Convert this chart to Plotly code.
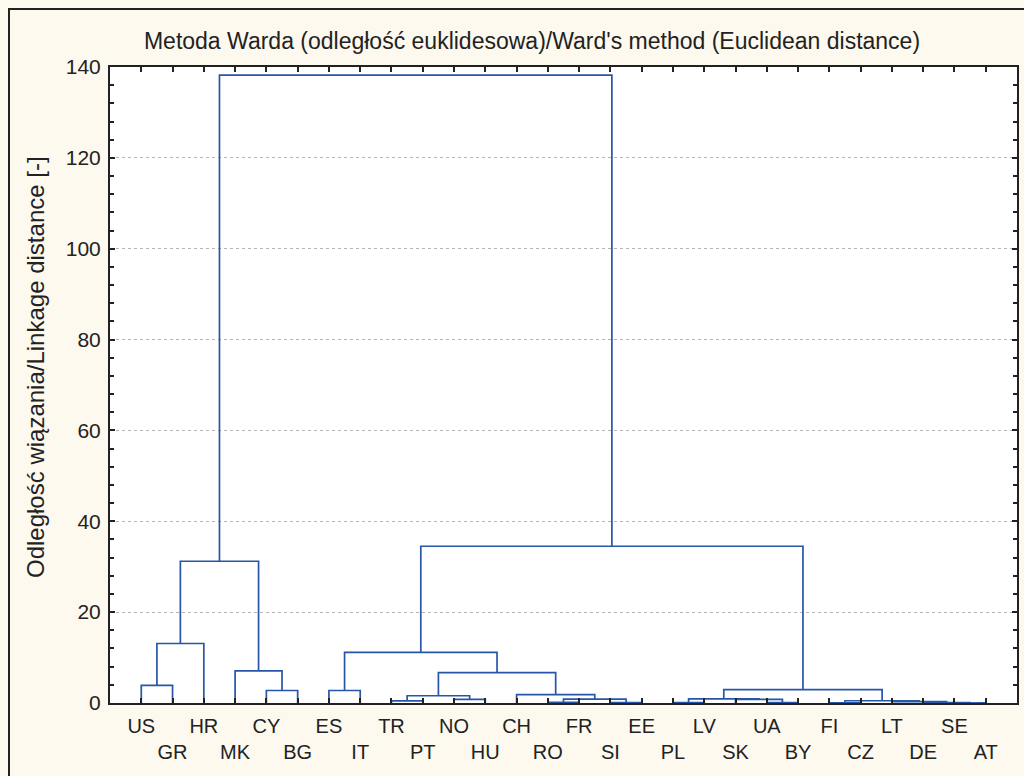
import plotly.graph_objects as go

# ---- data ----
leaves = ["US", "GR", "HR", "MK", "CY", "BG", "ES", "IT", "TR", "PT", "NO", "HU",
          "CH", "RO", "FR", "SI", "EE", "PL", "LV", "SK", "UA", "BY", "FI", "CZ",
          "LT", "DE", "SE", "AT"]

# merges: (child_a, child_b, linkage distance); children are leaf names or merge ids "c<k>"
merge_a = ["US", "c0", "CY", "MK", "c1", "ES", "TR", "NO", "c6", "RO", "SI", "c9", "CH",
           "c8", "c5", "PL", "UA", "SK", "c15", "FI", "SE", "DE", "LT", "c19", "c18",
           "c14", "c4"]
merge_b = ["GR", "HR", "BG", "c2", "c3", "IT", "PT", "HU", "c7", "FR", "EE", "c10", "c11",
           "c12", "c13", "LV", "BY", "c16", "c17", "CZ", "AT", "c20", "c21", "c22", "c23",
           "c24", "c25"]
merge_h = [3.9, 13.1, 2.75, 7.05, 31.2, 2.75, 0.45, 0.8, 1.6, 0.15, 0.1, 0.85, 1.85,
           6.7, 11.15, 0.1, 0.08, 0.8, 0.9, 0.06, 0.03, 0.1, 0.3, 0.5, 2.95, 34.5, 138.2]

y_ticks = [0, 20, 40, 60, 80, 100, 120, 140]

title_text = "Metoda Warda (odległość euklidesowa)/Ward's method (Euclidean distance)"
y_title = "Odległość wiązania/Linkage distance [-]"

# ---- build dendrogram paths ----
pos = {name: i for i, name in enumerate(leaves)}
hgt = {name: 0.0 for name in leaves}
xs, ys = [], []
for k, (a, b, h) in enumerate(zip(merge_a, merge_b, merge_h)):
    xa, xb = pos[a], pos[b]
    xs += [xa, xa, xb, xb, None]
    ys += [hgt[a], h, h, hgt[b], None]
    cid = "c%d" % k
    pos[cid] = (xa + xb) / 2
    hgt[cid] = h

ticktext = [lab if i % 2 == 0 else "<br>" + lab for i, lab in enumerate(leaves)]

fig = go.Figure()
fig.add_trace(go.Scatter(x=xs, y=ys, mode="lines",
                         line=dict(color="#2756A8", width=1.7),
                         hoverinfo="skip", showlegend=False))

font_family = "Liberation Sans, Arial, sans-serif"
ink = "#222222"

fig.update_layout(
    width=1024, height=776,
    margin=dict(l=110, r=7, t=67, b=73),
    paper_bgcolor="#FDF9EE",
    plot_bgcolor="white",
    font=dict(family=font_family, color=ink),
    title=dict(text=title_text, font=dict(size=23, color=ink),
               xref="container", x=532 / 1024, xanchor="center",
               yref="container", y=1 - 41 / 776, yanchor="middle"),
    xaxis=dict(range=[-1, 28], tickvals=list(range(len(leaves))), ticktext=ticktext,
               tickangle=0,
               ticks="inside", ticklen=5, tickwidth=1.5, tickcolor=ink,
               showline=True, linecolor=ink, linewidth=2, mirror="ticks",
               showgrid=False, zeroline=False, automargin=False,
               tickfont=dict(size=20, color=ink), ticklabelstandoff=4),
    yaxis=dict(range=[0, 140], tickvals=y_ticks,
               ticks="inside", ticklen=5, tickwidth=1.5, tickcolor=ink,
               showline=True, linecolor=ink, linewidth=2, mirror="ticks",
               showgrid=True, gridcolor="#b5b5b5", griddash="dot", gridwidth=1,
               zeroline=False, automargin=False,
               minor=dict(dtick=4, ticks="inside", ticklen=4, tickcolor=ink,
                          showgrid=False),
               tickfont=dict(size=21, color=ink), ticklabelstandoff=3),
    annotations=[dict(text=y_title, textangle=-90, xref="paper", yref="paper",
                      x=(35 - 110) / 907, y=(703 - 367) / 636,
                      xanchor="center", yanchor="middle", showarrow=False,
                      font=dict(size=24, color=ink))],
    shapes=[dict(type="rect", xref="paper", yref="paper",
                 x0=(9 - 110) / 907, x1=1.2, y0=-0.3, y1=1 + (67 - 9) / 636,
                 line=dict(color=ink, width=2), fillcolor="rgba(0,0,0,0)",
                 layer="above")],
)

fig.write_html("out.html", config={"displayModeBar": False},
               post_script="document.body.style.margin='0';document.body.style.padding='0';")
